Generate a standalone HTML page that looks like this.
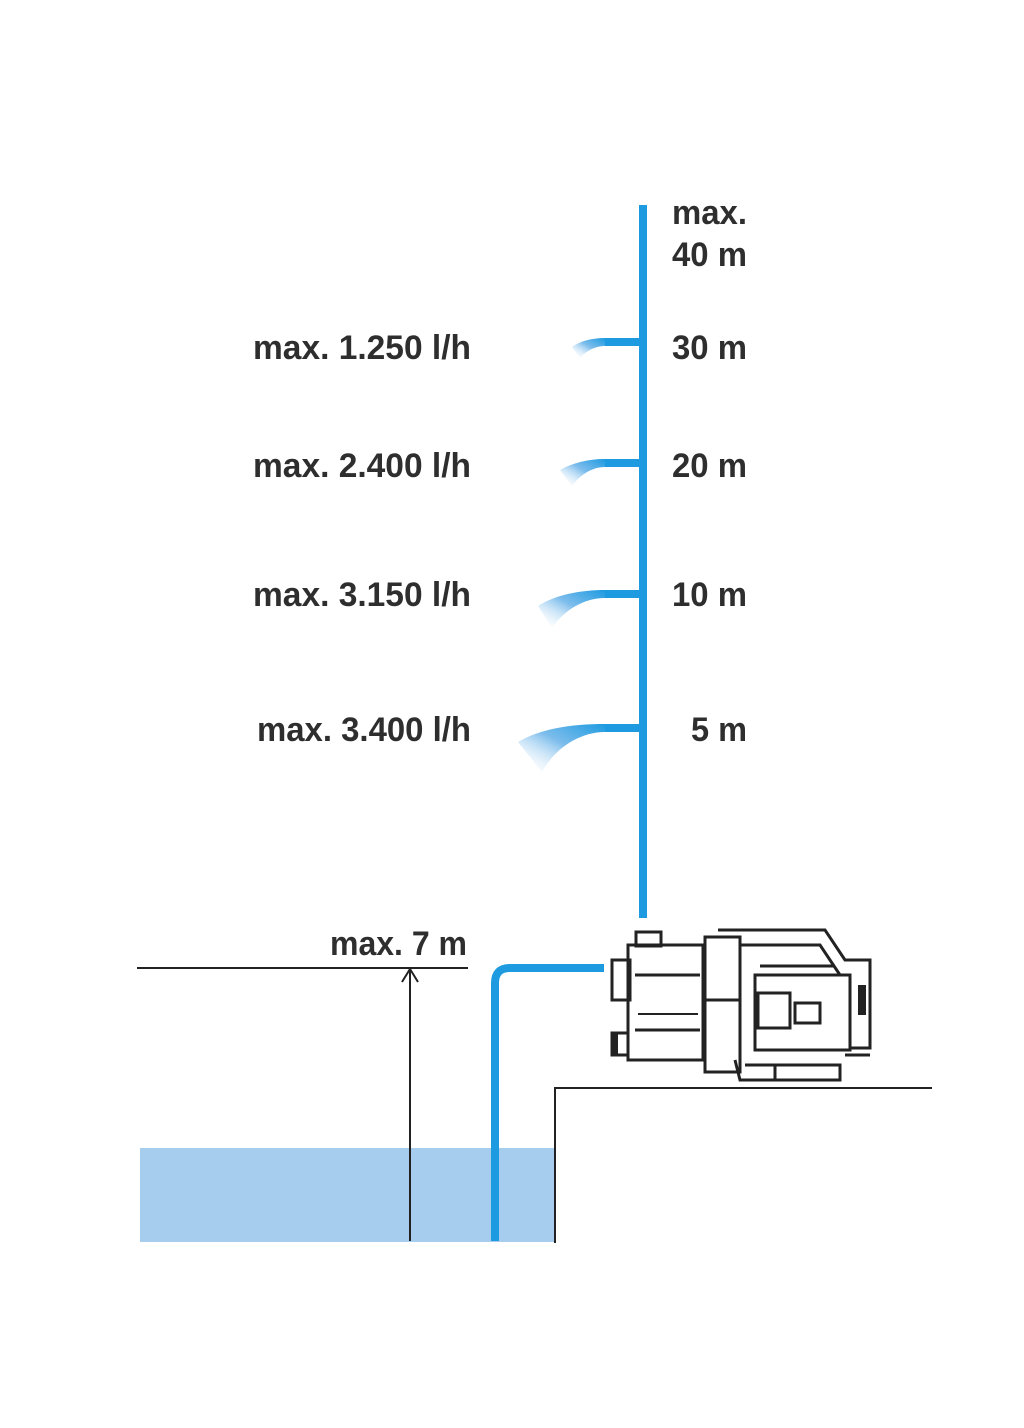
<!DOCTYPE html>
<html><head><meta charset="utf-8"><style>
html,body{margin:0;padding:0;background:#fff;}
svg{display:block}
text{font-family:"Liberation Sans",sans-serif;font-weight:bold;fill:#2e2e2e;font-size:34px;}
</style></head><body>
<svg width="1024" height="1428" viewBox="0 0 1024 1428" xmlns="http://www.w3.org/2000/svg">
<defs>
<linearGradient id="sp" x1="1" y1="0" x2="0" y2="1">
<stop offset="0" stop-color="#1e9be0"/>
<stop offset="0.45" stop-color="#7dbdec"/>
<stop offset="1" stop-color="#ffffff" stop-opacity="0"/>
</linearGradient>
</defs>
<rect x="639" y="205" width="8" height="713" fill="#1e9be0"/>
<rect x="604" y="338" width="38" height="8" fill="#1e9be0"/>
<rect x="604" y="459" width="38" height="8" fill="#1e9be0"/>
<rect x="604" y="590" width="38" height="8" fill="#1e9be0"/>
<rect x="604" y="724" width="38" height="8" fill="#1e9be0"/>
<!-- sprays -->
<path d="M605,338 C592,338 580,341 572,347 L580,358 C586,351 595,346 605,346 Z" fill="url(#sp)"/>
<path d="M605,459 C588,459 572,463 560,470 L572,486 C580,475 592,467 605,467 Z" fill="url(#sp)"/>
<path d="M605,590 C580,590 555,595 538,606 L552,628 C565,609 585,598 605,598 Z" fill="url(#sp)"/>
<path d="M605,724 C570,724 540,729 518,742 L542,772 C555,748 580,732 605,732 Z" fill="url(#sp)"/>
<text x="253" y="359" textLength="218" lengthAdjust="spacingAndGlyphs">max. 1.250 l/h</text>
<text x="253" y="477" textLength="218" lengthAdjust="spacingAndGlyphs">max. 2.400 l/h</text>
<text x="253" y="606" textLength="218" lengthAdjust="spacingAndGlyphs">max. 3.150 l/h</text>
<text x="257" y="741" textLength="214" lengthAdjust="spacingAndGlyphs">max. 3.400 l/h</text>
<text x="672" y="224" textLength="75" lengthAdjust="spacingAndGlyphs">max.</text>
<text x="672" y="266" textLength="75" lengthAdjust="spacingAndGlyphs">40 m</text>
<text x="672" y="359" textLength="75" lengthAdjust="spacingAndGlyphs">30 m</text>
<text x="672" y="477" textLength="75" lengthAdjust="spacingAndGlyphs">20 m</text>
<text x="672" y="606" textLength="75" lengthAdjust="spacingAndGlyphs">10 m</text>
<text x="691" y="741" textLength="56" lengthAdjust="spacingAndGlyphs">5 m</text>
<text x="330" y="955" textLength="137" lengthAdjust="spacingAndGlyphs">max. 7 m</text>
<rect x="140" y="1148" width="415" height="94" fill="#a6cdee"/>
<line x1="137" y1="968" x2="468" y2="968" stroke="#222" stroke-width="2"/>
<line x1="410" y1="970" x2="410" y2="1241" stroke="#222" stroke-width="2"/>
<path d="M402,982 L410,969 L418,982" fill="none" stroke="#222" stroke-width="2"/>
<path d="M604,968 L510,968 Q495,968 495,983 L495,1241" fill="none" stroke="#1e9be0" stroke-width="8"/>
<path d="M555,1243 L555,1088 L932,1088" fill="none" stroke="#222" stroke-width="2"/>
<!-- pump -->
<g fill="none" stroke="#222" stroke-width="3">
<rect x="636" y="932" width="25" height="14"/>
<rect x="612" y="960" width="18" height="40"/>
<rect x="612" y="1033" width="16" height="22"/>
<rect x="628" y="945" width="75" height="115"/>
<line x1="635" y1="975" x2="700" y2="975"/>
<line x1="635" y1="1030" x2="700" y2="1030"/>
<rect x="705" y="937" width="35" height="135"/>
<line x1="705" y1="1000" x2="740" y2="1000"/>
<path d="M718,930 L825,930 L845,960 L870,960 L870,1048 L850,1048"/>
<path d="M740,945 L820,945 L840,975"/>
<rect x="755" y="975" width="95" height="75"/>
<rect x="758" y="993" width="32" height="35"/>
<rect x="795" y="1003" width="25" height="20"/>
<path d="M735,1060 L740,1080 L840,1080 L840,1065 L745,1065"/>
<line x1="775" y1="1065" x2="775" y2="1080"/>
<path d="M845,1055 L870,1055"/>
<line x1="760" y1="966" x2="835" y2="966"/>
</g>
<rect x="638" y="1013" width="60" height="2" fill="#222"/>
<rect x="858" y="985" width="8" height="30" fill="#222"/>
<rect x="612" y="1033" width="6" height="22" fill="#222"/>
</svg>
</body></html>
